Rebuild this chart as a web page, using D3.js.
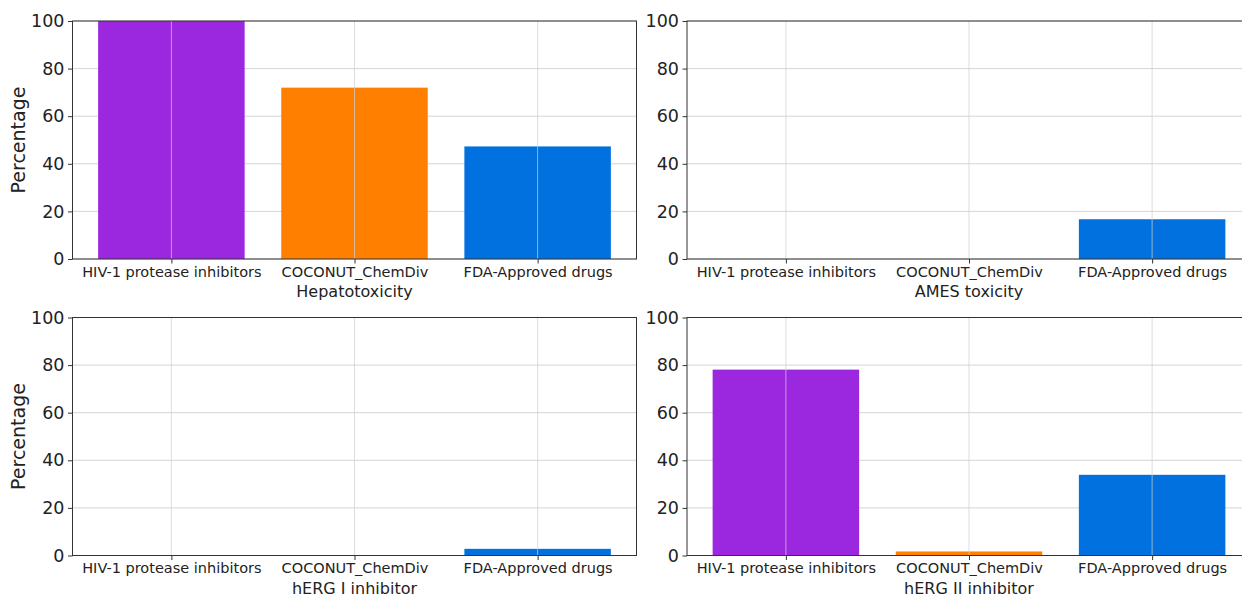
<!DOCTYPE html>
<html>
<head>
<meta charset="utf-8">
<script src="https://cdn.jsdelivr.net/npm/d3@7"></script>
<style>
  body { margin: 0; background: #fff; }
  svg { display: block; }
  svg text { font-family: "DejaVu Sans", sans-serif; }
</style>
</head>
<body>
<div id="wrapper"></div>
<script>
const categories = ["HIV-1 protease inhibitors", "COCONUT_ChemDiv", "FDA-Approved drugs"];
const barColors = ["#9b27df", "#ff8000", "#0071de"];
const endpoints = ["Hepatotoxicity", "AMES toxicity", "hERG I inhibitor", "hERG II inhibitor"];
const hepatotoxicity = [100, 72.0, 47.3];
const amesToxicity = [0, 0, 16.7];
const hergI = [0, 0, 2.8];
const hergII = [78.1, 1.7, 33.9];
const yTicks = [0, 20, 40, 60, 80, 100];

const seriesList = [hepatotoxicity, amesToxicity, hergI, hergII];

const width = 1242, height = 596;
const svg = d3.select("#wrapper").append("svg")
  .attr("width", width)
  .attr("height", height);

const panelW = 564, panelH = 238;
const origins = [
  {x: 72.5, y: 21},
  {x: 687, y: 21},
  {x: 72.5, y: 317.5},
  {x: 687, y: 317.5}
];

// matplotlib-style x limits: bars of width 0.8 plus 5% margins
const x = d3.scaleLinear().domain([-0.54, 2.54]).range([0, panelW]);
const y = d3.scaleLinear().domain([0, 100]).range([panelH, 0]);

seriesList.forEach((vals, i) => {
  const o = origins[i];
  const g = svg.append("g").attr("transform", `translate(${o.x},${o.y})`);

  // horizontal grid
  g.selectAll("line.hgrid")
    .data(yTicks)
    .enter().append("line")
    .attr("class", "hgrid")
    .attr("x1", 0).attr("x2", panelW)
    .attr("y1", d => y(d)).attr("y2", d => y(d))
    .style("stroke", "#d0d0d0")
    .style("stroke-width", 0.9);

  // bars
  g.selectAll("rect.bar")
    .data(vals)
    .enter().append("rect")
    .attr("class", "bar")
    .attr("x", (d, j) => x(j - 0.4))
    .attr("width", x(0.8) - x(0))
    .attr("y", d => y(d))
    .attr("height", d => y(0) - y(d))
    .style("fill", (d, j) => barColors[j]);

  // vertical grid drawn above bars like the reference
  g.selectAll("line.vgrid")
    .data(categories)
    .enter().append("line")
    .attr("class", "vgrid")
    .attr("x1", (d, j) => x(j)).attr("x2", (d, j) => x(j))
    .attr("y1", 0).attr("y2", panelH)
    .style("stroke", "#d0d0d0")
    .style("stroke-opacity", 0.8)
    .style("stroke-width", 0.9);

  // axes
  const yAxis = g.append("g")
    .call(d3.axisLeft(y).tickValues(yTicks).tickSize(4.5).tickPadding(3.5));
  yAxis.select(".domain").remove();
  yAxis.selectAll("text")
    .style("font-family", "DejaVu Sans")
    .style("font-size", "17.5px").style("fill", "#222");
  yAxis.selectAll("line").style("stroke", "#333");

  const xAxis = g.append("g")
    .attr("transform", `translate(0,${panelH})`)
    .call(d3.axisBottom(x).tickValues([0, 1, 2]).tickFormat(j => categories[j]).tickSize(4.5).tickPadding(3));
  xAxis.select(".domain").remove();
  xAxis.selectAll("text")
    .style("font-family", "DejaVu Sans")
    .style("font-size", "14.5px").style("fill", "#222");
  xAxis.selectAll("line").style("stroke", "#333");

  // frame
  g.append("rect")
    .attr("width", panelW).attr("height", panelH)
    .style("fill", "none")
    .style("stroke", "#333")
    .style("stroke-width", 1);

  // x label
  g.append("text")
    .attr("x", panelW / 2)
    .attr("y", panelH + 38)
    .style("text-anchor", "middle")
    .style("font-size", "16px")
    .style("fill", "#222")
    .text(endpoints[i]);

  if (i % 2 === 0) {
    g.append("text")
      .attr("transform", `translate(-47.5,${panelH / 2}) rotate(-90)`)
      .style("text-anchor", "middle")
      .style("font-size", "19px")
      .style("fill", "#222")
      .text("Percentage");
  }
});
</script>
</body>
</html>
